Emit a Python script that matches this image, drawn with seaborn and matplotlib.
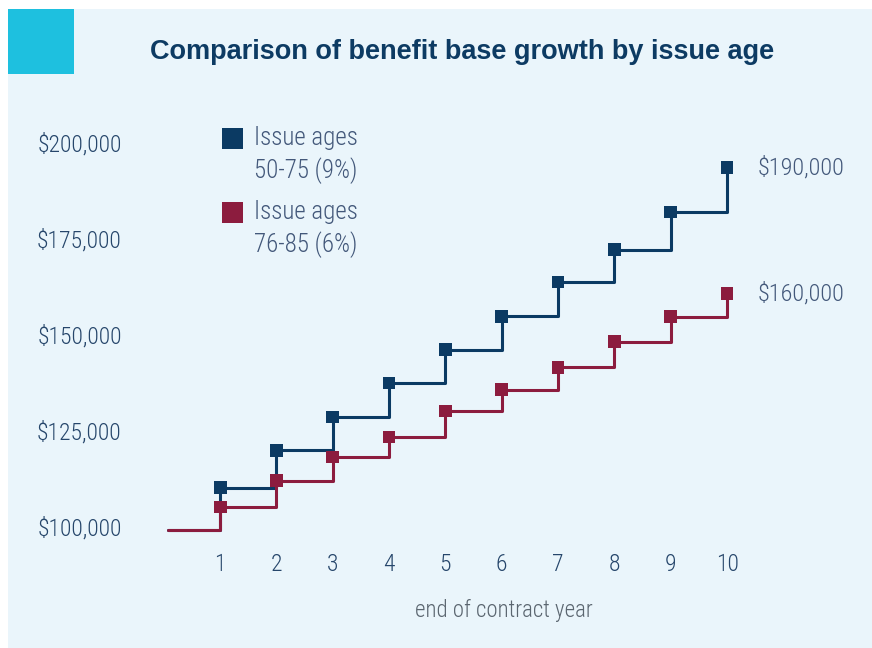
import numpy as np
import pandas as pd
import matplotlib
matplotlib.use("Agg")
import matplotlib.pyplot as plt
import matplotlib.transforms as mtransforms
import seaborn as sns
from matplotlib.patches import Rectangle

# ------------------------------------------------------------
# data
# ------------------------------------------------------------
years = [1, 2, 3, 4, 5, 6, 7, 8, 9, 10]
start_year = 0.08
start_value = 100000
base_9pct = [111000, 120800, 129400, 138300, 147000, 155700, 164600, 173000, 182800, 194300]
base_6pct = [106000, 112800, 119000, 124200, 131000, 136500, 142400, 149000, 155500, 161500]
y_ticks = [100000, 125000, 150000, 175000, 200000]
end_labels = ["$190,000", "$160,000"]
legend_labels = [["Issue ages", "50-75 (9%)"], ["Issue ages", "76-85 (6%)"]]

BLUE = "#0b3a63"
RED = "#8c1c3e"
BG = "#eaf5fb"
TEAL = "#1ec0df"
TICK_COL = "#26466b"
TEXT_COL = "#43587a"
NARROW = ["Roboto Condensed", "DejaVu Sans"]

sns.set_theme(style="white")
plt.rcParams["font.family"] = NARROW
plt.rcParams["font.weight"] = "light"

W, H = 872, 648
fig = plt.figure(figsize=(W / 100, H / 100), dpi=100)
fig.patch.set_facecolor("white")

# light blue panel + teal corner square
fig.add_artist(Rectangle((8 / W, 0), 1 - 8 / W, 1 - 9 / H, transform=fig.transFigure,
                         facecolor=BG, edgecolor="none", zorder=0))
fig.add_artist(Rectangle((8 / W, 1 - 74 / H), 66 / W, 65 / H, transform=fig.transFigure,
                         facecolor=TEAL, edgecolor="none", zorder=1))

# axes placed so the data lands where it sits in the reference
ax = fig.add_axes([130 / W, 1 - 541.5 / H, (811.5 - 130) / W, (541.5 - 146) / H])
ax.set_facecolor("none")

# flat at last year's value, then step up at the end of each year
for vals, col in [(base_9pct, BLUE), (base_6pct, RED)]:
    df = pd.DataFrame({"year": [start_year] + years,
                       "value": [start_value] + vals})
    sns.lineplot(data=df, x="year", y="value", ax=ax, color=col, lw=2.2,
                 drawstyle="steps-post", zorder=3)
    sns.scatterplot(x=years, y=vals, ax=ax, color=col, marker="s", s=85,
                    edgecolor="none", zorder=4)

ax.set_xlim(-0.6, 11.5)
ax.set_ylim(97000, 200000)
ax.set_xticks(years)
ax.set_xticklabels([str(y) for y in years])
ax.set_yticks(y_ticks)
ax.set_yticklabels([f"${v:,.0f}" for v in y_ticks])
ax.tick_params(axis="both", length=0, labelsize=17, colors=TICK_COL)
ax.tick_params(axis="x", pad=8)
ax.tick_params(axis="y", pad=6)
# labels sit a few pixels above their values in the reference
shift = mtransforms.ScaledTranslation(0, 4 / 100, fig.dpi_scale_trans)
for lab in ax.get_yticklabels():
    lab.set_transform(lab.get_transform() + shift)
ax.set_xlabel("")
ax.set_ylabel("")
sns.despine(ax=ax, left=True, bottom=True)

fig.text(504 / W, 1 - 610 / H, "end of contract year", fontsize=16.5,
         color="#5b6670", ha="center", va="center")

# end-of-series value labels
ax.text(10.55, base_9pct[-1], end_labels[0], fontsize=17.5, color=TEXT_COL,
        va="center", ha="left")
ax.text(10.55, base_6pct[-1], end_labels[1], fontsize=17.5, color=TEXT_COL,
        va="center", ha="left")

# manual legend
for lines, col, ytop in zip(legend_labels, [BLUE, RED], [128, 202]):
    fig.add_artist(Rectangle((222 / W, 1 - (ytop + 21) / H), 21 / W, 21 / H,
                             transform=fig.transFigure, facecolor=col,
                             edgecolor="none", zorder=5))
    for i, line in enumerate(lines):
        fig.text(254 / W, 1 - (ytop + 10 + 33 * i) / H, line, fontsize=18,
                 color=TEXT_COL, va="center", ha="left")

fig.text(462 / W, 1 - 52 / H, "Comparison of benefit base growth by issue age",
         fontsize=19.5, fontweight="bold", color="#0d3b63", ha="center", va="center",
         family=["Liberation Sans", "DejaVu Sans"])

fig.savefig("out.png", dpi=100, facecolor=fig.get_facecolor())
